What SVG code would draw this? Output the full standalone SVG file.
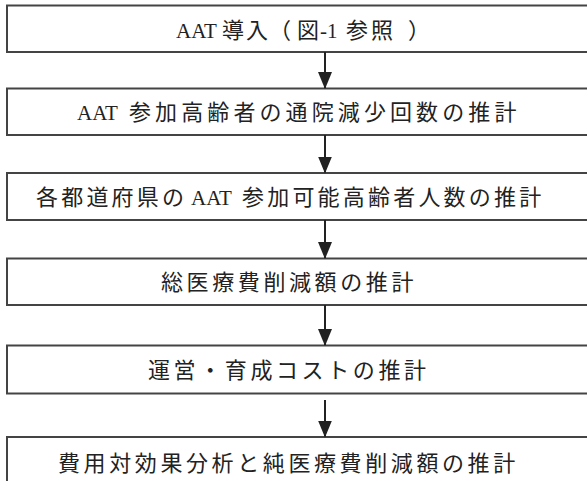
<svg xmlns="http://www.w3.org/2000/svg" width="587" height="481" viewBox="0 0 587 481">
<style>
.box{fill:#fff;stroke:#444;stroke-width:2}
.t{font-family:"Noto Sans CJK JP","Liberation Serif",sans-serif;font-size:22px;fill:#222}
.l{font-family:"Liberation Serif","Noto Sans CJK JP",serif;font-size:21px;letter-spacing:0}
.c{stroke:#222;stroke-width:2;fill:none}
</style>
<defs>
<marker id="ah" markerUnits="userSpaceOnUse" markerWidth="17" markerHeight="16" refX="16" refY="7" orient="auto" viewBox="0 0 17 14">
<path d="M0,0 L17,7 L0,14 Z" fill="#222"/>
</marker>
</defs>
<rect width="587" height="481" fill="#fff"/>
<g id="n1"><rect class="box" x="7" y="5.5" width="600" height="46.5"/>
<text class="t" y="37.5"><tspan class="l" x="176">AAT</tspan><tspan x="222" letter-spacing="2">導入</tspan><tspan x="269">（</tspan><tspan x="297">図</tspan><tspan class="l" x="320">-1</tspan><tspan x="346" letter-spacing="3">参照</tspan><tspan x="408">）</tspan></text></g>
<g id="n2"><rect class="box" x="7" y="88.5" width="600" height="46.5"/>
<text class="t" y="120"><tspan class="l" x="77">AAT</tspan><tspan x="129" letter-spacing="4.1">参加高齢者の通院減少回数の推計</tspan></text></g>
<g id="n3"><rect class="box" x="7" y="173" width="600" height="47"/>
<text class="t" y="204.5"><tspan x="36" letter-spacing="3.2">各都道府県の</tspan><tspan class="l" x="191">AAT</tspan><tspan x="242" letter-spacing="3.2">参加可能高齢者人数の推計</tspan></text></g>
<g id="n4"><rect class="box" x="7" y="258.5" width="600" height="46.5"/>
<text class="t" x="161" y="290" letter-spacing="3.6">総医療費削減額の推計</text></g>
<g id="n5"><rect class="box" x="7" y="345.5" width="600" height="48"/>
<text class="t" x="148" y="378" letter-spacing="3.6">運営・育成コストの推計</text></g>
<g id="n6"><rect class="box" x="7" y="437" width="600" height="60"/>
<text class="t" x="58" y="471" letter-spacing="3.6">費用対効果分析と純医療費削減額の推計</text></g>
<g id="connectors">
<line class="c" x1="325" y1="52" x2="325" y2="88" marker-end="url(#ah)"/>
<line class="c" x1="325" y1="135" x2="325" y2="172.5" marker-end="url(#ah)"/>
<line class="c" x1="325" y1="220" x2="325" y2="258" marker-end="url(#ah)"/>
<line class="c" x1="325" y1="305" x2="325" y2="345" marker-end="url(#ah)"/>
<line class="c" x1="325" y1="400" x2="325" y2="436.5" marker-end="url(#ah)"/>
</g>
</svg>
